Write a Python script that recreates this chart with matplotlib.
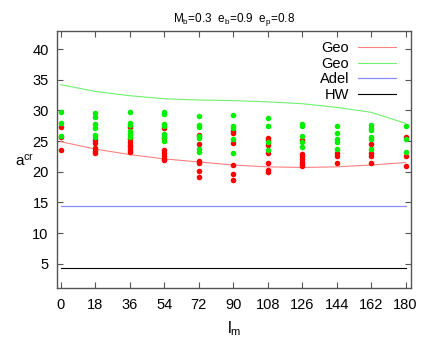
import numpy as np
import matplotlib
matplotlib.use('Agg')
import matplotlib.pyplot as plt

plt.rcParams['font.family'] = ['Liberation Sans', 'DejaVu Sans']
plt.rcParams['mathtext.fontset'] = 'custom'
plt.rcParams['mathtext.rm'] = 'Liberation Sans'
plt.rcParams['mathtext.it'] = 'Liberation Sans'

#%% Datos

lm = [0, 18, 36, 54, 72, 90, 108, 126, 144, 162, 180]

# curvas
geo_rojo = [24.9, 23.7, 22.8, 22.1, 21.6, 21.1, 20.8, 20.7, 20.8, 21.1, 21.5]
geo_verde = [34.2, 33.1, 32.4, 31.9, 31.7, 31.6, 31.4, 31.1, 30.5, 29.7, 27.9]
adel = [14.4] * 11
hw = [4.3] * 11

# puntos por columna
pts_rojo = [
    [27.3, 25.6, 23.5],
    [25.1, 24.7, 23.8, 23.4, 23.1],
    [27.3, 25.3, 24.8, 24.4, 24.0, 23.6, 23.3],
    [27.1, 25.5, 23.6, 23.1, 22.6, 22.1, 21.9],
    [26.0, 24.5, 21.8, 21.5, 20.1, 19.1],
    [26.6, 26.3, 24.7, 21.1, 19.7, 18.7],
    [25.5, 25.1, 24.4, 23.0, 21.5, 20.3, 20.0],
    [25.1, 22.9, 22.5, 22.0, 21.6, 21.2, 20.9],
    [23.1, 22.6, 21.4],
    [24.6, 23.0, 22.6, 21.5],
    [25.7, 22.6, 20.9],
]
pts_verde = [
    [29.8, 27.9, 25.9],
    [29.5, 29.0, 27.8, 27.2, 26.0, 25.6],
    [29.7, 28.0, 27.6, 26.6, 26.1, 25.7],
    [29.7, 29.4, 27.8, 27.4, 26.1, 25.7, 25.0],
    [29.1, 27.6, 27.3, 25.9, 25.5, 23.7, 23.3],
    [29.3, 27.4, 27.1, 25.4, 23.0],
    [28.7, 27.4, 24.8, 23.5],
    [27.8, 27.5, 25.9, 24.9, 24.0],
    [27.5, 26.3, 25.3, 24.9, 23.7],
    [27.6, 27.2, 26.8, 25.7, 25.3, 23.7],
    [27.4, 25.3, 23.3],
]

#%% Figura

fig = plt.figure(figsize=(4.36, 3.54), dpi=100)
ax = fig.add_axes([0.1307, 0.1856, 0.8126, 0.7277])

ax.plot(lm, geo_rojo, color='#ff8080', lw=0.8, label='Geo')
ax.plot(lm, geo_verde, color='#70f070', lw=0.8, label='Geo')
ax.plot(lm, adel, color='#8c8cff', lw=0.9, label='Adel')
ax.plot(lm, hw, color='black', lw=0.8, label='HW')

for x, ys in zip(lm, pts_rojo):
    ax.plot([x] * len(ys), ys, 'o', color='#ff0000', ms=4, mew=0)
for x, ys in zip(lm, pts_verde):
    ax.plot([x] * len(ys), ys, 'o', color='#00ee00', ms=4, mew=0)

ax.set_xlim(-2, 183)
ax.set_ylim(1, 43)
ax.set_xticks(lm)
ax.set_yticks([5, 10, 15, 20, 25, 30, 35, 40])
ax.tick_params(direction='in', length=4, width=0.8, colors='#555555',
               labelcolor='black', labelsize=10.5, top=True, right=True)
ax.tick_params(axis='x', pad=7)
ax.tick_params(axis='y', pad=6)
for s in ax.spines.values():
    s.set_color('#555555')
    s.set_linewidth(1.0)

ax.set_title(r'M$_\mathrm{b}$=0.3  e$_\mathrm{b}$=0.9  e$_\mathrm{p}$=0.8',
             fontsize=8.5, pad=6)
ax.set_xlabel(r'l$_\mathrm{m}$', fontsize=11.5, labelpad=5)
fig.text(0.056, 0.545, r'a$^{\mathrm{cr}}$', fontsize=11, ha='center', va='center')

ax.legend(loc='upper right', frameon=False, markerfirst=False, fontsize=10.5,
          handlelength=2.6, labelspacing=0.12, borderaxespad=0.3,
          handletextpad=0.6, bbox_to_anchor=(0.985, 1.0))

plt.savefig('out.png', dpi=100)
